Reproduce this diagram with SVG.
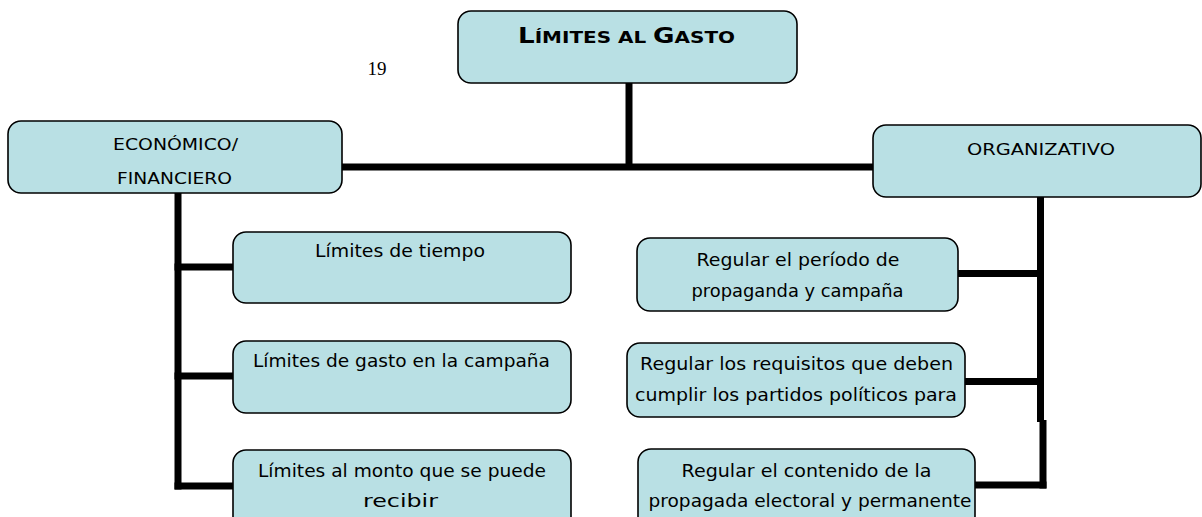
<svg xmlns="http://www.w3.org/2000/svg" width="1202" height="517" viewBox="0 0 1202 517">
<style>
.box{fill:#b9e0e4;stroke:#000;stroke-width:1.6}
.t{font-family:"DejaVu Sans","Liberation Sans",sans-serif;font-size:17px;fill:#000;text-anchor:middle}
.s{font-size:15px}
.title{font-family:"DejaVu Sans","Liberation Sans",sans-serif;font-weight:bold;fill:#000;text-anchor:middle}
.c{stroke:#000;stroke-width:7;fill:none}
</style>
<rect width="1202" height="517" fill="#fff"/>
<text x="377" y="75" font-family="Liberation Serif, serif" font-size="19" text-anchor="middle">19</text>
<g id="connectors" class="c">
<line x1="629" y1="83" x2="629" y2="168"/>
<line x1="342" y1="167" x2="873" y2="167"/>
<line x1="178" y1="193" x2="178" y2="489.5"/>
<line x1="174.5" y1="267" x2="233" y2="267"/>
<line x1="174.5" y1="376" x2="233" y2="376"/>
<line x1="174.5" y1="486" x2="233" y2="486"/>
<line x1="1040.5" y1="197" x2="1040.5" y2="422"/>
<line x1="1043" y1="420" x2="1043" y2="488.5"/>
<line x1="957" y1="273.5" x2="1044" y2="273.5"/>
<line x1="963" y1="381.5" x2="1044" y2="381.5"/>
<line x1="975" y1="485" x2="1046.5" y2="485"/>
</g>
<g id="n-top"><rect class="box" x="458" y="11" width="339" height="72" rx="13"/>
<text class="title" x="626.5" y="43" textLength="217" lengthAdjust="spacingAndGlyphs"><tspan font-size="21">L</tspan><tspan font-size="16">ÍMITES AL </tspan><tspan font-size="21">G</tspan><tspan font-size="16">ASTO</tspan></text></g>
<g id="n-econ"><rect class="box" x="8" y="121" width="334" height="72" rx="13"/>
<text class="t s" x="175.5" y="150" textLength="125" lengthAdjust="spacingAndGlyphs">ECONÓMICO/</text>
<text class="t s" x="174.5" y="184" textLength="115" lengthAdjust="spacingAndGlyphs">FINANCIERO</text></g>
<g id="n-org"><rect class="box" x="873" y="125" width="328" height="72" rx="13"/>
<text class="t s" x="1041" y="155" textLength="148" lengthAdjust="spacingAndGlyphs">ORGANIZATIVO</text></g>
<g id="n-l1"><rect class="box" x="233" y="232" width="338" height="71" rx="13"/>
<text class="t" x="400" y="257" textLength="170" lengthAdjust="spacingAndGlyphs">Límites de tiempo</text></g>
<g id="n-l2"><rect class="box" x="233" y="341" width="338" height="72" rx="13"/>
<text class="t" x="401.5" y="367" textLength="297" lengthAdjust="spacingAndGlyphs">Límites de gasto en la campaña</text></g>
<g id="n-l3"><rect class="box" x="233" y="450" width="338" height="80" rx="13"/>
<text class="t" x="402" y="477" textLength="288" lengthAdjust="spacingAndGlyphs">Límites al monto que se puede</text>
<text class="t" x="400.5" y="507" textLength="75" lengthAdjust="spacingAndGlyphs">recibir</text></g>
<g id="n-r1"><rect class="box" x="637" y="238" width="321" height="73" rx="13"/>
<text class="t" x="798" y="266" textLength="203" lengthAdjust="spacingAndGlyphs">Regular el período de</text>
<text class="t" x="797.5" y="297" textLength="212" lengthAdjust="spacingAndGlyphs">propaganda y campaña</text></g>
<g id="n-r2"><rect class="box" x="627" y="343" width="338" height="74" rx="13"/>
<text class="t" x="796.5" y="370" textLength="313" lengthAdjust="spacingAndGlyphs">Regular los requisitos que deben</text>
<text class="t" x="796" y="401" textLength="322" lengthAdjust="spacingAndGlyphs">cumplir los partidos políticos para</text></g>
<g id="n-r3"><rect class="box" x="638" y="449" width="337" height="80" rx="13"/>
<text class="t" x="806.5" y="477" textLength="250" lengthAdjust="spacingAndGlyphs">Regular el contenido de la</text>
<text class="t" x="810" y="507" textLength="323" lengthAdjust="spacingAndGlyphs">propagada electoral y permanente</text></g>
</svg>
